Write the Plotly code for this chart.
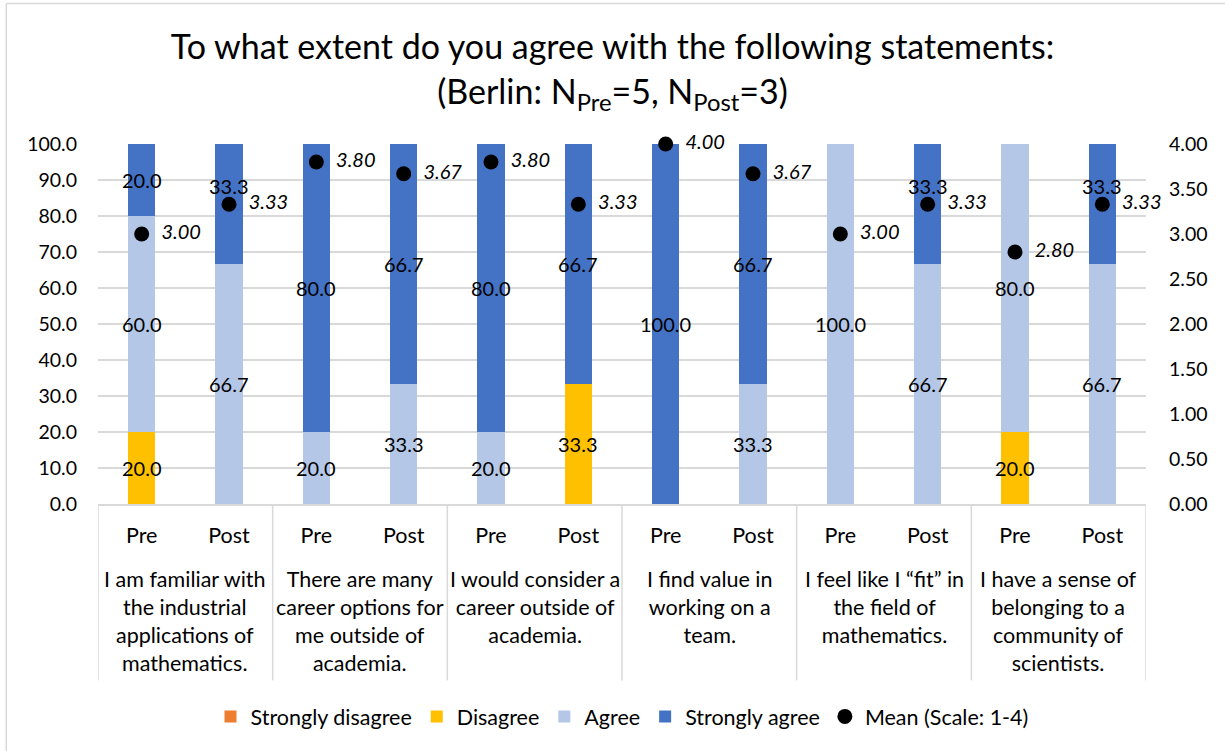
import plotly.graph_objects as go

statements = [
    "I am familiar with<br>the industrial<br>applications of<br>mathematics.",
    "There are many<br>career options for<br>me outside of<br>academia.",
    "I would consider a<br>career outside of<br>academia.",
    "I find value in<br>working on a<br>team.",
    "I feel like I “fit” in<br>the field of<br>mathematics.",
    "I have a sense of<br>belonging to a<br>community of<br>scientists.",
]
phases = ["Pre", "Post"]

strongly_disagree = [0, 0, 0, 0, 0, 0, 0, 0, 0, 0, 0, 0]
disagree = [20.0, 0, 0, 0, 0, 33.3, 0, 0, 0, 0, 20.0, 0]
agree = [60.0, 66.7, 20.0, 33.3, 20.0, 0, 0, 33.3, 100.0, 66.7, 80.0, 66.7]
strongly_agree = [20.0, 33.3, 80.0, 66.7, 80.0, 66.7, 100.0, 66.7, 0, 33.3, 0, 33.3]
mean_scores = [3.00, 3.33, 3.80, 3.67, 3.80, 3.33, 4.00, 3.67, 3.00, 3.33, 2.80, 3.33]

n_groups = len(statements)
n_bars = n_groups * len(phases)
bar_x = list(range(n_bars))
phase_labels = [p for _ in statements for p in phases]

FONT = "Lato"
GRID = "#d9d9d9"
series = [
    ("Strongly disagree", strongly_disagree, "#ED7D31"),
    ("Disagree", disagree, "#FFC000"),
    ("Agree", agree, "#B4C7E7"),
    ("Strongly agree", strongly_agree, "#4472C4"),
]

fig = go.Figure()
annotations = []
base = [0.0] * n_bars
for name, vals, color in series:
    fig.add_trace(go.Bar(
        x=bar_x, y=vals, name=name,
        marker=dict(color=color, line=dict(width=0)),
        hoverinfo="name+y",
    ))
    # segment value labels, centred in each segment; nudged up when they
    # would sit on top of the mean marker
    for i, v in enumerate(vals):
        if v > 0:
            mid = base[i] + v / 2
            clash = abs(mid - mean_scores[i] * 25) < 5
            annotations.append(dict(
                x=bar_x[i], y=mid, xref="x", yref="y",
                text=f"{v:.1f}", showarrow=False,
                yshift=18 if clash else 0,
                font=dict(family=FONT, size=20, color="black"),
            ))
        base[i] += v

fig.add_trace(go.Scatter(
    x=bar_x, y=mean_scores, name="Mean (Scale: 1-4)", yaxis="y2",
    mode="markers+text",
    marker=dict(color="black", size=15),
    text=[f"\u00a0\u00a0{m:.2f}" for m in mean_scores],
    textposition="middle right",
    textfont=dict(family=FONT, size=20, color="black", style="italic"),
    cliponaxis=False,
))

# statement labels under each Pre/Post pair
for g, s in enumerate(statements):
    annotations.append(dict(
        x=2 * g + 0.5, y=-0.168, xref="x", yref="paper",
        text=s, showarrow=False, xanchor="center", yanchor="top",
        align="center", font=dict(family=FONT, size=21.5, color="black"),
    ))

# group divider lines of the category box
shapes = []
for g in range(n_groups + 1):
    xv = 2 * g - 0.5
    shapes.append(dict(
        type="line", xref="x", yref="paper", x0=xv, x1=xv, y0=0, y1=-0.49,
        line=dict(color=GRID, width=1.5),
    ))
# outer chart frame (left and top edges)
shapes.append(dict(type="line", xref="paper", yref="paper",
                   x0=-0.0875, x1=1.2, y0=1.39, y1=1.39,
                   line=dict(color=GRID, width=1.5)))
shapes.append(dict(type="line", xref="paper", yref="paper",
                   x0=-0.0875, x1=-0.0875, y0=1.39, y1=-0.7,
                   line=dict(color=GRID, width=1.5)))

fig.update_layout(
    width=1225, height=751,
    paper_bgcolor="white", plot_bgcolor="white",
    barmode="stack", bargap=0.69,
    margin=dict(l=98, r=79, t=144, b=247),
    font=dict(family=FONT, size=20, color="black"),
    title=dict(
        text="To what extent do you agree with the following statements:<br>"
             "(Berlin: N<sub>Pre</sub>=5, N<sub>Post</sub>=3)",
        x=0.5, xanchor="center", y=0.921, yanchor="middle",
        yref="container",
        font=dict(family=FONT, size=34, color="black"),
    ),
    xaxis=dict(
        range=[-0.5, n_bars - 0.5], tickvals=bar_x, ticktext=phase_labels,
        showline=True, linecolor=GRID, linewidth=1.5,
        showgrid=False, zeroline=False, ticks="",
        ticklabelstandoff=11,
        tickfont=dict(family=FONT, size=21.5),
    ),
    yaxis=dict(
        range=[0, 100], dtick=10, tickformat=".1f",
        showgrid=True, gridcolor=GRID, gridwidth=1.5,
        zeroline=False, showline=False, ticks="",
        ticklabelstandoff=20,
        tickfont=dict(family=FONT, size=19.5),
    ),
    yaxis2=dict(
        overlaying="y", side="right", range=[0, 4], dtick=0.5,
        tickformat=".2f", showgrid=False, zeroline=False, ticks="",
        ticklabelstandoff=22,
        tickfont=dict(family=FONT, size=19.5),
    ),
    legend=dict(
        orientation="h", x=0.5, xanchor="center", y=-0.59, yanchor="middle",
        font=dict(family=FONT, size=21.5), itemwidth=30, traceorder="normal",
    ),
    annotations=annotations,
    shapes=shapes,
)

fig.write_html("out.html")
